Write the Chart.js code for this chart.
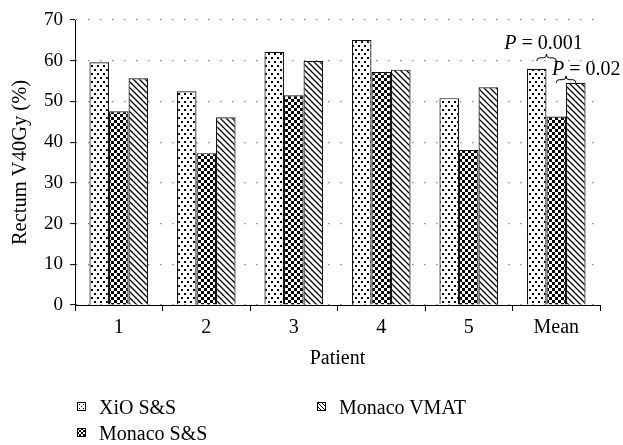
<!DOCTYPE html>
<html>
<head>
<meta charset="utf-8">
<script src="https://cdn.jsdelivr.net/npm/chart.js@4/dist/chart.umd.min.js"></script>
<style>
  html, body { margin: 0; padding: 0; background: #fff; }
  #wrap { position: relative; width: 623px; height: 445px; overflow: hidden; }
  #c { position: absolute; left: 0; top: 0; }
  .leg { position: absolute; font-family: "Liberation Serif", serif; font-size: 20px; color: #000; white-space: nowrap; line-height: 24px; }
  .leg canvas { position: absolute; left: 0; top: 7px; }
  .leg span { position: absolute; left: 22px; top: 0; }
</style>
</head>
<body>
<div id="wrap">
  <canvas id="c" width="623" height="445"></canvas>
</div>
<script>
// ---- data ----
const categories = ['1', '2', '3', '4', '5', 'Mean'];
const seriesNames = ['XiO S&S', 'Monaco S&S', 'Monaco VMAT'];
const xioSS = [59.6, 52.5, 62.2, 65.1, 50.8, 58.0];
const monacoSS = [47.6, 37.3, 51.5, 57.2, 38.1, 46.3];
const monacoVMAT = [55.7, 46.1, 59.9, 57.8, 53.5, 54.6];
const yTicks = [0, 10, 20, 30, 40, 50, 60, 70];
const pLabels = ['0.001', '0.02'];
const pPairs = [[0, 1], [1, 2]];

// ---- patterns ----
function makeTile(w, h, draw) {
  const t = document.createElement('canvas');
  t.width = w; t.height = h;
  const g = t.getContext('2d');
  g.fillStyle = '#fff'; g.fillRect(0, 0, w, h);
  draw(g);
  return t;
}
const tileDots = makeTile(6, 8, g => {
  g.fillStyle = '#000';
  g.fillRect(1, 1, 2, 2);
  g.fillRect(4, 5, 2, 2);
});
const tileCheck = makeTile(6, 6, g => {
  g.fillStyle = '#000';
  g.fillRect(0, 0, 3, 3);
  g.fillRect(3, 3, 3, 3);
});
const tileHatch = makeTile(6, 6, g => {
  g.strokeStyle = '#000'; g.lineWidth = 1.3;
  g.beginPath();
  g.moveTo(-1, -1); g.lineTo(7, 7);
  g.moveTo(5, -1); g.lineTo(7, 1);
  g.moveTo(-1, 5); g.lineTo(1, 7);
  g.stroke();
});
const pctx = document.createElement('canvas').getContext('2d');
const fills = [tileDots, tileCheck, tileHatch].map(t => pctx.createPattern(t, 'repeat'));

// ---- legend (HTML) ----
const legPos = [[77, 395], [77, 421], [317, 395]];
const wrap = document.getElementById('wrap');
const legTiles = [
  makeTile(4, 4, g => { g.fillStyle = '#000'; g.fillRect(0, 0, 1, 1); g.fillRect(2, 2, 1, 1); }),
  makeTile(4, 4, g => { g.fillStyle = '#000'; g.fillRect(0, 0, 2, 2); g.fillRect(2, 2, 2, 2); }),
  makeTile(4, 4, g => { g.strokeStyle = '#000'; g.lineWidth = 1; g.beginPath(); g.moveTo(-1,-1); g.lineTo(5,5); g.moveTo(3,-1); g.lineTo(5,1); g.moveTo(-1,3); g.lineTo(1,5); g.stroke(); })
];
seriesNames.forEach((name, i) => {
  const d = document.createElement('div');
  d.className = 'leg';
  d.style.left = legPos[i][0] + 'px';
  d.style.top = legPos[i][1] + 'px';
  const sw = document.createElement('canvas');
  sw.width = 9; sw.height = 9;
  const g = sw.getContext('2d');
  g.fillStyle = g.createPattern(legTiles[i], 'repeat');
  g.fillRect(0, 0, 9, 9);
  g.strokeStyle = '#000'; g.lineWidth = 1;
  g.strokeRect(0.5, 0.5, 8, 8);
  const sp = document.createElement('span');
  sp.textContent = name;
  d.appendChild(sw); d.appendChild(sp);
  wrap.appendChild(d);
});

// ---- p-value braces plugin ----
const FONT = '"Liberation Serif", serif';
function drawBrace(ctx, x1, x2, y, h) {
  const xm = (x1 + x2) / 2;
  const r = Math.min(3, (x2 - x1) / 6);
  ctx.beginPath();
  ctx.moveTo(x1, y + h * 0.45);
  ctx.quadraticCurveTo(x1, y, x1 + r, y);
  ctx.lineTo(xm - r, y);
  ctx.quadraticCurveTo(xm, y, xm, y - h * 0.55);
  ctx.quadraticCurveTo(xm, y, xm + r, y);
  ctx.lineTo(x2 - r, y);
  ctx.quadraticCurveTo(x2, y, x2, y + h * 0.45);
  ctx.stroke();
}
const braceCfg = [
  { gap: 11, h: 7, tx: -3, ty: -10, align: 'center' },
  { gap: 3, h: 7, tx: -14, ty: -6, align: 'left' }
];
const pPlugin = {
  id: 'pvals',
  afterDatasetsDraw(chart) {
    const ctx = chart.ctx;
    const idx = categories.length - 1;
    ctx.save();
    pPairs.forEach((pair, k) => {
      const a = chart.getDatasetMeta(pair[0]).data[idx];
      const b = chart.getDatasetMeta(pair[1]).data[idx];
      const cfg = braceCfg[k];
      const y = Math.min(a.y, b.y) - cfg.gap;
      ctx.strokeStyle = '#000'; ctx.lineWidth = 1;
      drawBrace(ctx, a.x, b.x, y, cfg.h);
      const tipY = y - cfg.h * 0.55;
      const xm = (a.x + b.x) / 2;
      ctx.font = 'italic 20px ' + FONT;
      const wP = ctx.measureText('P').width;
      ctx.font = '20px ' + FONT;
      const rest = ' = ' + pLabels[k];
      const wR = ctx.measureText(rest).width;
      const total = wP + wR;
      let x0 = cfg.align === 'center' ? xm + cfg.tx - total / 2 : xm + cfg.tx;
      const ty = tipY + cfg.ty;
      ctx.fillStyle = '#000';
      ctx.textBaseline = 'middle';
      ctx.textAlign = 'left';
      ctx.font = 'italic 20px ' + FONT;
      ctx.fillText('P', x0, ty);
      ctx.font = '20px ' + FONT;
      ctx.fillText(rest, x0 + wP, ty);
    });
    ctx.restore();
  }
};

// ---- chart ----
const datasets = [xioSS, monacoSS, monacoVMAT].map((vals, i) => ({
  label: seriesNames[i],
  data: vals,
  backgroundColor: fills[i],
  borderColor: '#111',
  borderWidth: 1.2,
  borderSkipped: 'bottom',
  categoryPercentage: 0.67,
  barPercentage: 1.0
}));

new Chart(document.getElementById('c'), {
  type: 'bar',
  data: { labels: categories, datasets },
  options: {
    responsive: false,
    animation: false,
    devicePixelRatio: 1,
    layout: { padding: { left: 8, top: 20, right: 23, bottom: 74.5 } },
    plugins: { legend: { display: false }, tooltip: { enabled: false } },
    scales: {
      x: {
        offset: true,
        grid: { display: true, drawOnChartArea: false, drawTicks: true, tickLength: 6, color: '#000', tickColor: '#000', offset: true },
        border: { display: true, color: '#000', width: 1 },
        ticks: { color: '#000', font: { family: FONT, size: 20 }, padding: 5 },
        title: { display: true, text: 'Patient', color: '#000', font: { family: FONT, size: 20 }, padding: 0 },
        afterFit: s => { s.height = 65.5; }
      },
      y: {
        min: 0, max: 70,
        afterBuildTicks: s => { s.ticks = yTicks.map(v => ({ value: v })); },
        grid: { color: '#8a8a8a', lineWidth: 1.2, drawTicks: true, tickLength: 5, tickColor: '#000', tickWidth: 1 },
        border: { display: true, color: '#000', width: 1, dash: [1.5, 10.5] },
        ticks: { color: '#000', font: { family: FONT, size: 19 }, padding: 7 },
        title: { display: true, text: 'Rectum V40Gy (%)', color: '#000', font: { family: FONT, size: 20.5 }, padding: 0 },
        afterFit: s => { s.width = 67; }
      }
    }
  },
  plugins: [pPlugin]
});
</script>
</body>
</html>
